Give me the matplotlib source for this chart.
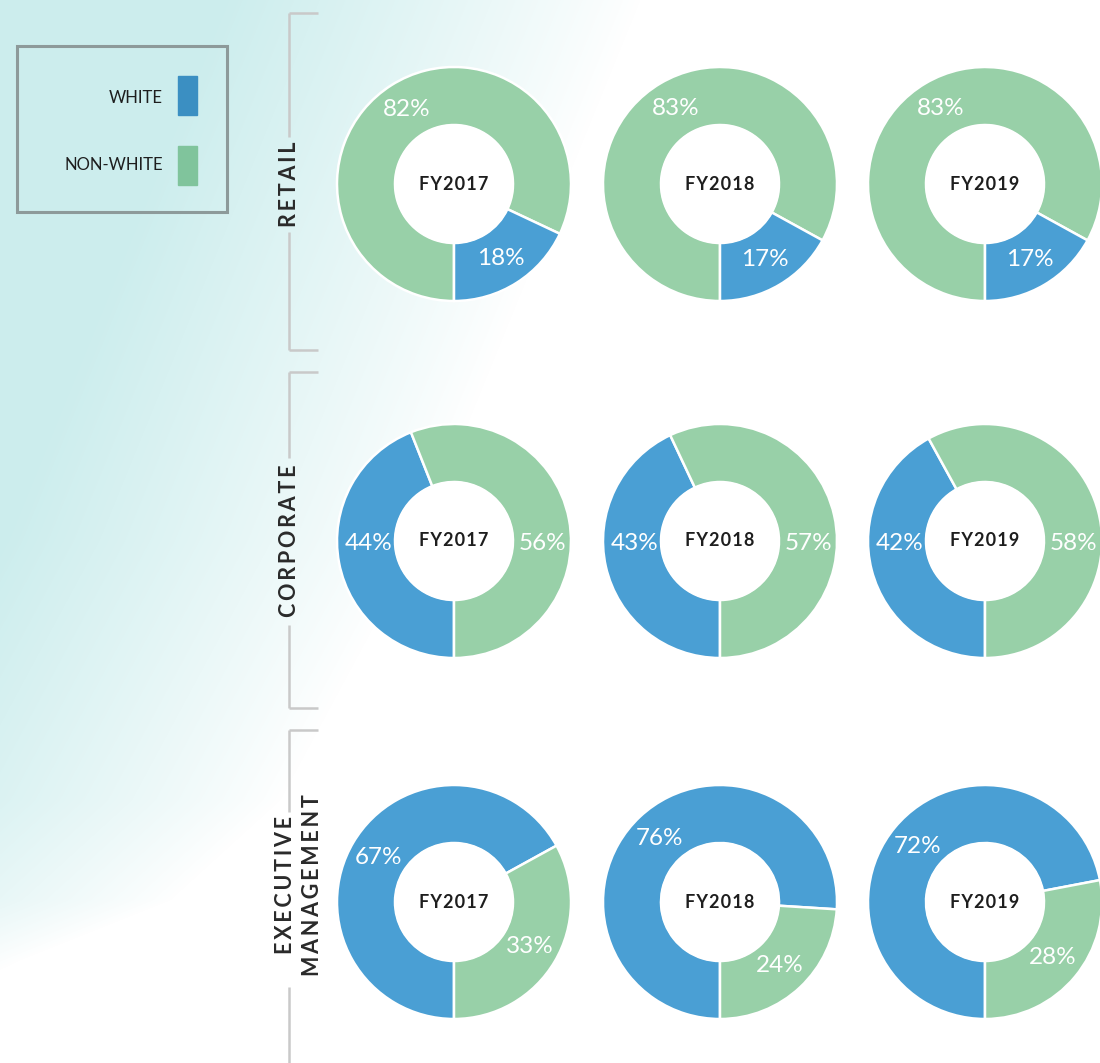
import matplotlib
matplotlib.use('Agg')
import matplotlib.pyplot as plt
from matplotlib.patches import Rectangle, Circle
import numpy as np

W, H = 1100, 1063

# data
years = ['FY2017', 'FY2018', 'FY2019']
groups = ['RETAIL', 'CORPORATE', 'EXECUTIVE\nMANAGEMENT']
white_retail = [18, 17, 17]
nonwhite_retail = [82, 83, 83]
white_corporate = [44, 43, 42]
nonwhite_corporate = [56, 57, 58]
white_exec = [67, 76, 72]
nonwhite_exec = [33, 24, 28]

BLUE = '#4a9fd4'
GREEN = '#98d0a8'
LEG_BLUE = '#3b8fc2'
LEG_GREEN = '#80c49c'
DARK = '#1e1e1e'
GRAY = '#c9c9c9'

fig = plt.figure(figsize=(W / 100, H / 100), dpi=100)
ax = fig.add_axes([0, 0, 1, 1])

# watercolour-like teal wash on the left
yy, xx = np.mgrid[0:H, 0:W]
xb = np.interp(yy, [0, 540, 800, 900, 960, H], [640, 420, 280, 170, 20, -200])
alpha = np.clip((xb - xx) / 420.0, 0, 1) ** 0.9
teal = np.array([0.80, 0.93, 0.93])
bg = 1 - alpha[..., None] * (1 - teal)
ax.imshow(bg, extent=(0, W, 0, H), origin='upper', zorder=0, aspect='auto')


def Y(y):
    return H - y


def spaced(s, sep='\u2009'):
    return '\n'.join(sep.join(line) for line in s.split('\n'))


col_x = [454, 720, 985]
row_y = [184, 541, 902]
R = 117
rows = [
    (white_retail, nonwhite_retail),
    (white_corporate, nonwhite_corporate),
    (white_exec, nonwhite_exec),
]

for r, (wv, nv) in enumerate(rows):
    for c in range(3):
        cx, cy = col_x[c], Y(row_y[r])
        if r == 0:
            vals, cols = [nv[c], wv[c]], [GREEN, BLUE]
        else:
            vals, cols = [wv[c], nv[c]], [BLUE, GREEN]
        wedges, texts, autotexts = ax.pie(
            vals, colors=cols, center=(cx, cy), radius=R,
            startangle=-90, counterclock=False,
            autopct=lambda p: f'{p:.0f}%', pctdistance=0.75,
            wedgeprops=dict(width=58, edgecolor='white', linewidth=1.8),
            textprops=dict(color='white', fontsize=17.5, family='Lato',
                           fontweight='normal'))
        if r == 1:
            # corporate labels sit level with the centre
            autotexts[0].set_position((cx - 0.73 * R, cy - 3))
            autotexts[1].set_position((cx + 0.76 * R, cy - 3))
        ax.add_patch(Circle((cx, cy), 59, color='white', zorder=3))
        ax.text(cx, cy, spaced(years[c], '\u200a'), ha='center', va='center',
                fontsize=13, fontweight='bold', family=['Lato', 'DejaVu Sans'],
                color=DARK, zorder=4)


# side brackets with labels
brackets = [(13, 350, 137, 232), (372, 708, 458, 625), (730, 1080, 812, 987)]
label_x = [289, 289, 299]
label_y = [184, 541, 885]
for g, (top, bot, g0, g1) in enumerate(brackets):
    x = 289
    ax.plot([x, x], [Y(top), Y(g0)], color=GRAY, lw=1.8, solid_capstyle='butt')
    ax.plot([x, x], [Y(g1), Y(bot)], color=GRAY, lw=1.8, solid_capstyle='butt')
    ax.plot([x, 318], [Y(top), Y(top)], color=GRAY, lw=1.8, solid_capstyle='butt')
    ax.plot([x, 318], [Y(bot), Y(bot)], color=GRAY, lw=1.8, solid_capstyle='butt')
    ax.text(label_x[g], Y(label_y[g]), spaced(groups[g], '\u2009'),
            rotation=90, ha='center', va='center', multialignment='center',
            fontsize=15.5, fontweight='bold', color='#2a2a2a',
            family=['Lato', 'DejaVu Sans'], linespacing=1.3, zorder=4)

# legend box
ax.add_patch(Rectangle((17, Y(212)), 210, 166, fill=False,
                       edgecolor='#8d9a9a', lw=2.2, zorder=4))
ax.add_patch(Rectangle((178, Y(115)), 19, 39, color=LEG_BLUE, zorder=4))
ax.add_patch(Rectangle((178, Y(185)), 19, 39, color=LEG_GREEN, zorder=4))
ax.text(163, Y(98), 'WHITE', ha='right', va='center', fontsize=12,
        family='Lato', color=DARK, zorder=4)
ax.text(163, Y(165), 'NON-WHITE', ha='right', va='center', fontsize=12,
        family='Lato', color=DARK, zorder=4)

ax.set_xlim(0, W)
ax.set_ylim(0, H)
ax.set_aspect('auto')
ax.axis('off')

fig.savefig('out.png', dpi=100)
